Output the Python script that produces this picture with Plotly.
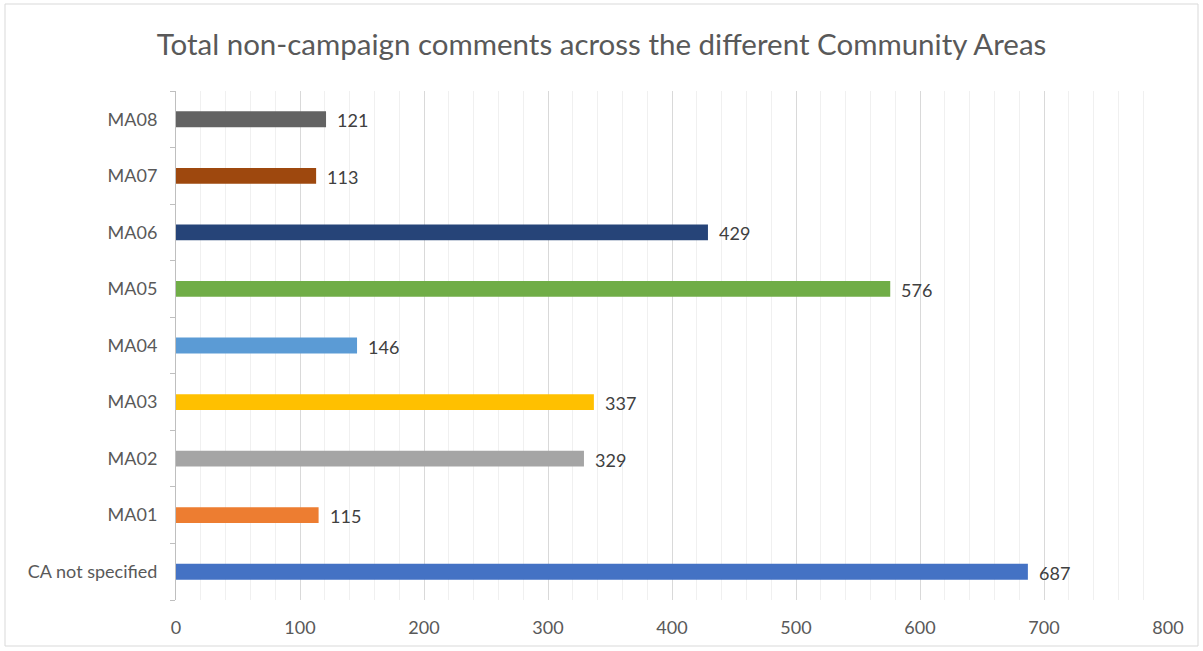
import plotly.graph_objects as go

categories = ["CA not specified", "MA01", "MA02", "MA03", "MA04", "MA05", "MA06", "MA07", "MA08"]
comments = [687, 115, 329, 337, 146, 576, 429, 113, 121]
bar_colors = ["#4472C4", "#ED7D31", "#A5A5A5", "#FFC000", "#5B9BD5",
              "#70AD47", "#264478", "#9E480E", "#636363"]
x_ticks = [0, 100, 200, 300, 400, 500, 600, 700, 800]

W, H = 1203, 651
L, R, T, B = 176, 35, 91, 51
pw, ph = W - L - R, H - T - B

fig = go.Figure(go.Bar(
    y=categories, x=comments, orientation="h",
    marker=dict(color=bar_colors, line=dict(width=0)),
    width=0.28,
))

# value labels just right of each bar end
annotations = [
    dict(x=v, y=c, xref="x", yref="y", text=str(v), showarrow=False,
         xanchor="left", yanchor="middle", xshift=9, yshift=-1,
         font=dict(family="Lato", size=18, color="#404040"))
    for c, v in zip(categories, comments)
]

fig.update_layout(
    width=W, height=H,
    margin=dict(l=L, r=R, t=T, b=B),
    paper_bgcolor="white", plot_bgcolor="white",
    showlegend=False,
    font=dict(family="Lato", size=18, color="#595959"),
    title=dict(text="Total non-campaign comments across the different Community Areas",
               x=0.5, xanchor="center", y=1 - 45 / H, yanchor="middle",
               font=dict(family="Lato", size=29.5, color="#595959")),
    xaxis=dict(range=[0, 800], tickvals=x_ticks, showline=False, zeroline=False,
               showgrid=True, gridcolor="#D9D9D9", gridwidth=1,
               minor=dict(dtick=20, showgrid=True, gridcolor="#F0F0F0", gridwidth=1),
               tickfont=dict(size=18, color="#595959"), ticks="", ticklabelstandoff=15),
    yaxis=dict(showline=True, linecolor="#BFBFBF", linewidth=1, ticks="outside",
               tickson="boundaries", ticklen=5, tickcolor="#BFBFBF", showgrid=False,
               tickfont=dict(size=18, color="#595959"), ticklabelstandoff=14),
    bargap=0.72,
    annotations=annotations,
    shapes=[dict(type="rect", xref="paper", yref="paper",
                 x0=(5 - L) / pw, x1=(1198 - L) / pw,
                 y0=(H - B - 646) / ph, y1=(H - B - 4) / ph,
                 line=dict(color="#D9D9D9", width=1), fillcolor="rgba(0,0,0,0)",
                 layer="below")],
)

fig.write_html("out.html")
